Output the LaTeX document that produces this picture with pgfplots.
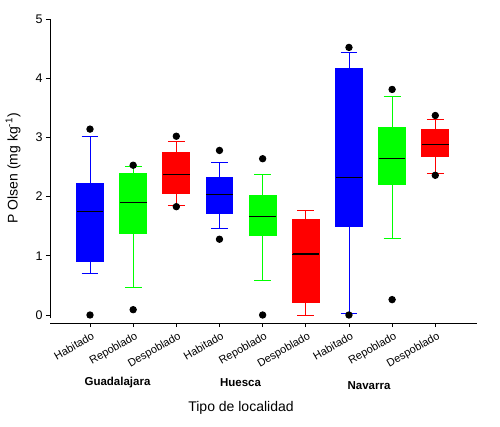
\documentclass[border=0pt]{standalone}
\usepackage{pgfplots}
\pgfplotsset{compat=1.18}
\usepgfplotslibrary{statistics}
\usepackage{fontspec}
\setmainfont{Liberation Sans}
\definecolor{sbblue}{RGB}{0,0,255}
\definecolor{sbgreen}{RGB}{0,255,0}
\definecolor{sbred}{RGB}{255,0,0}
\pgfplotsset{
  mybox/.style={solid, draw=#1, line width=0.9pt,
    mark=*, mark size=3.2pt, mark options={draw=black, fill=black},
    boxplot/draw direction=y,
    boxplot/every box/.style={draw=#1, fill=#1},
    boxplot/every whisker/.style={draw=#1},
    boxplot/every median/.style={draw=black, line width=1pt},
    boxplot/box extend=0.62, boxplot/whisker extend=0.39},
  med/.style={black, line width=1.1pt, no markers},
}
\begin{document}
\begin{tikzpicture}
\useasboundingbox (0,0) rectangle (500pt,426pt);
\begin{axis}[
  at={(50pt,103pt)}, anchor=south west,
  scale only axis, width=426.7pt, height=304pt,
  xmin=0.073, xmax=9.96, ymin=-0.135, ymax=5,
  axis x line*=bottom, axis y line*=left,
  axis line style={-, line width=0.8pt, black},
  y axis line style={shorten <=5pt},
  xtick={1,...,9},
  xticklabels={Habitado,Repoblado,Despoblado,Habitado,Repoblado,Despoblado,Habitado,Repoblado,Despoblado},
  ytick={0,1,2,3,4,5},
  tick align=outside, major tick length=4pt,
  tick style={black, line width=0.8pt},
  /pgf/number format/assume math mode=true,
  yticklabel style={font=\fontsize{12.5}{14}\selectfont},
  xticklabel style={font=\fontsize{11}{13}\selectfont, rotate=30, anchor=north east, inner sep=1pt, yshift=-3pt},
  clip=false,
]
% Guadalajara
\addplot[mybox=sbblue, boxplot prepared={lower whisker=0.71, lower quartile=0.91, median=1.75, upper quartile=2.23, upper whisker=3.02, draw position=1}]
  table[row sep=\\, y index=0] {y\\ 3.14\\ 0.0\\};
\addplot[mybox=sbgreen, boxplot prepared={lower whisker=0.46, lower quartile=1.38, median=1.90, upper quartile=2.39, upper whisker=2.51, draw position=2}]
  table[row sep=\\, y index=0] {y\\ 2.53\\ 0.09\\};
\addplot[mybox=sbred, boxplot prepared={lower whisker=1.85, lower quartile=2.06, median=2.37, upper quartile=2.75, upper whisker=2.94, draw position=3}]
  table[row sep=\\, y index=0] {y\\ 3.02\\ 1.83\\};
% Huesca
\addplot[mybox=sbblue, boxplot prepared={lower whisker=1.46, lower quartile=1.72, median=2.03, upper quartile=2.32, upper whisker=2.58, draw position=4}]
  table[row sep=\\, y index=0] {y\\ 2.78\\ 1.28\\};
\addplot[mybox=sbgreen, boxplot prepared={lower whisker=0.58, lower quartile=1.35, median=1.66, upper quartile=2.02, upper whisker=2.37, draw position=5}]
  table[row sep=\\, y index=0] {y\\ 2.64\\ 0.0\\};
\addplot[mybox=sbred, boxplot prepared={lower whisker=0.0, lower quartile=0.21, median=1.03, upper quartile=1.62, upper whisker=1.76, draw position=6}]
  coordinates {};
% Navarra
\addplot[mybox=sbblue, boxplot prepared={lower whisker=0.03, lower quartile=1.50, median=2.32, upper quartile=4.16, upper whisker=4.44, draw position=7}]
  table[row sep=\\, y index=0] {y\\ 4.52\\ 0.0\\};
\addplot[mybox=sbgreen, boxplot prepared={lower whisker=1.29, lower quartile=2.21, median=2.64, upper quartile=3.16, upper whisker=3.69, draw position=8}]
  table[row sep=\\, y index=0] {y\\ 3.81\\ 0.26\\};
\addplot[mybox=sbred, boxplot prepared={lower whisker=2.39, lower quartile=2.67, median=2.88, upper quartile=3.14, upper whisker=3.30, draw position=9}]
  table[row sep=\\, y index=0] {y\\ 3.37\\ 2.36\\};
% medians (drawn on top)
\addplot[med] coordinates {(0.70,1.75) (1.30,1.75)};
\addplot[med] coordinates {(1.70,1.90) (2.30,1.90)};
\addplot[med] coordinates {(2.70,2.37) (3.30,2.37)};
\addplot[med] coordinates {(3.70,2.03) (4.30,2.03)};
\addplot[med] coordinates {(4.70,1.66) (5.30,1.66)};
\addplot[med] coordinates {(5.70,1.03) (6.30,1.03)};
\addplot[med] coordinates {(6.70,2.32) (7.30,2.32)};
\addplot[med] coordinates {(7.70,2.64) (8.30,2.64)};
\addplot[med] coordinates {(8.70,2.88) (9.30,2.88)};
\end{axis}
\node[rotate=90, font=\fontsize{14}{16}\selectfont] at (13pt,257.5pt) {P Olsen (mg kg\textsuperscript{-1})};
\node[font=\fontsize{14}{16}\selectfont] at (241pt,18pt) {Tipo de localidad};
\node[font=\bfseries\fontsize{11.5}{14}\selectfont] at (117.5pt,43pt) {Guadalajara};
\node[font=\bfseries\fontsize{11.5}{14}\selectfont] at (240.5pt,43pt) {Huesca};
\node[font=\bfseries\fontsize{11.5}{14}\selectfont] at (369pt,40pt) {Navarra};
\end{tikzpicture}
\end{document}
